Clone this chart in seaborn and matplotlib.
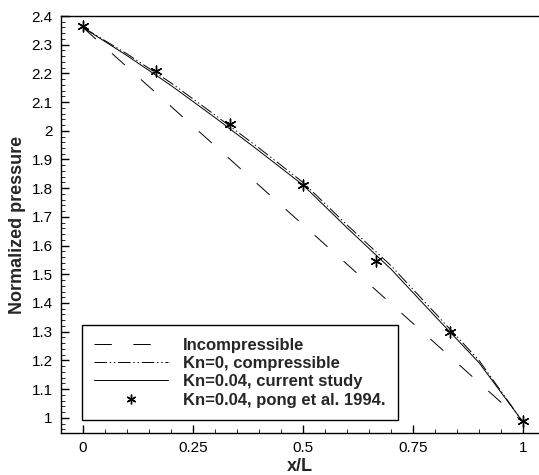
import matplotlib
matplotlib.use("Agg")
import matplotlib.pyplot as plt
import seaborn as sns
import pandas as pd
from matplotlib.ticker import MultipleLocator, FixedLocator
from matplotlib.lines import Line2D

# ---- data ----
x_incomp = [0.0, 1.0]
p_incomp = [2.360, 0.985]

x_curve = [0.0, 0.1, 0.2, 0.3, 0.4, 0.5, 0.6, 0.7, 0.8, 0.9, 1.0]
p_kn0 = [2.360, 2.268, 2.167, 2.055, 1.940, 1.820, 1.672, 1.530, 1.365, 1.200, 0.985]
p_kn004 = [2.360, 2.262, 2.158, 2.046, 1.930, 1.811, 1.662, 1.518, 1.354, 1.192, 0.985]

x_pong = [0.0, 1/6, 1/3, 0.5, 2/3, 5/6, 1.0]
p_pong = [2.365, 2.208, 2.022, 1.811, 1.546, 1.299, 0.989]

labels = ["Incompressible", "Kn=0, compressible", "Kn=0.04, current study",
          "Kn=0.04, pong et al. 1994."]
xticks = [0, 0.25, 0.5, 0.75, 1]
xtick_labels = ["0", "0.25", "0.5", "0.75", "1"]
yticks = [1, 1.1, 1.2, 1.3, 1.4, 1.5, 1.6, 1.7, 1.8, 1.9, 2, 2.1, 2.2, 2.3, 2.4]
ytick_labels = ["1", "1.1", "1.2", "1.3", "1.4", "1.5", "1.6", "1.7", "1.8", "1.9",
                "2", "2.1", "2.2", "2.3", "2.4"]

sns.set_style("ticks")
plt.rcParams["font.family"] = ["Liberation Sans", "DejaVu Sans"]
plt.rcParams["lines.scale_dashes"] = False

fig = plt.figure(figsize=(5.39, 4.75), dpi=100)
ax = fig.add_axes([61/539, 1 - 433/475, (538 - 61)/539, (433 - 16)/475])

dash_style = (0, (12.5, 15.5))
dashdot_style = (0, (9, 2, 1, 2, 1, 2))
lw = 0.7

sns.lineplot(x=x_incomp, y=p_incomp, ax=ax, color="black", lw=lw, linestyle=dash_style)
sns.lineplot(x=x_curve, y=p_kn0, ax=ax, color="black", lw=lw, linestyle=dashdot_style)
sns.lineplot(x=x_curve, y=p_kn004, ax=ax, color="black", lw=lw, linestyle="-")
sns.scatterplot(x=x_pong, y=p_pong, ax=ax, marker=(6, 2, 0), s=60, color="black",
                linewidth=1.0, zorder=5)

ax.set_xlim(-0.05, 1.034)
ax.set_ylim(0.947, 2.4)
ax.xaxis.set_major_locator(FixedLocator(xticks))
ax.set_xticklabels(xtick_labels)
ax.yaxis.set_major_locator(FixedLocator(yticks))
ax.set_yticklabels(ytick_labels)
ax.xaxis.set_minor_locator(MultipleLocator(0.05))
ax.yaxis.set_minor_locator(MultipleLocator(0.02))
ax.tick_params(which="major", direction="in", length=6, width=1.0, labelsize=11,
               pad=6, colors="black", top=False, right=False)
ax.tick_params(which="minor", direction="in", length=3, width=0.7,
               top=False, right=False)
for s in ["left", "bottom", "top"]:
    ax.spines[s].set_linewidth(1.0)
    ax.spines[s].set_color("black")
ax.spines["right"].set_visible(False)

ax.set_xlabel("x/L", fontsize=13, fontweight="bold", labelpad=2)
ax.set_ylabel("Normalized pressure", fontsize=13, fontweight="bold", labelpad=4)

handles = [
    Line2D([], [], color="black", lw=lw, linestyle=dash_style),
    Line2D([], [], color="black", lw=lw, linestyle=dashdot_style),
    Line2D([], [], color="black", lw=lw, linestyle="-"),
    Line2D([], [], color="black", lw=0, marker=(6, 2, 0), markersize=7, markeredgewidth=1.0),
]
leg = ax.legend(handles, labels, loc="lower left", bbox_to_anchor=(0.044, 0.031),
                prop={"weight": "bold", "size": 12}, frameon=True, fancybox=False,
                edgecolor="black", framealpha=1, handlelength=4.4, handletextpad=0.9,
                labelspacing=0.2, borderpad=0.75, borderaxespad=0)
leg.get_frame().set_linewidth(1.0)

fig.savefig("out.png", dpi=100)
